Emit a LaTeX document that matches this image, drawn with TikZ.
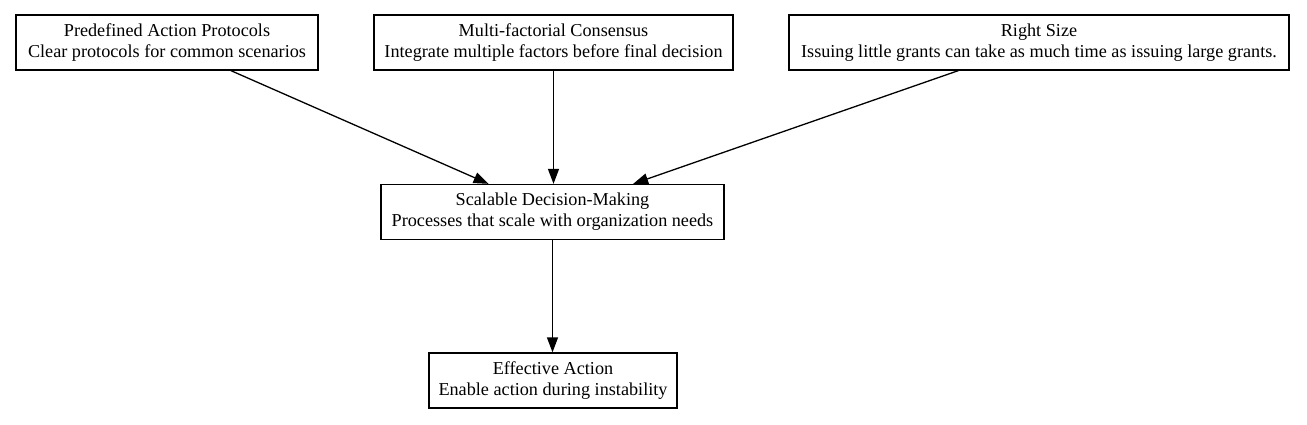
\documentclass[tikz,border=0pt]{standalone}
\usepackage{fontspec}
\setmainfont{Liberation Serif}
\usepackage{tikz}
\usetikzlibrary{arrows.meta}

\begin{document}
\begin{tikzpicture}[x=1pt,y=-1pt,
    box/.style={draw, line width=1.3pt, align=center, inner sep=0pt, minimum height=55pt,
        font=\fontsize{18.2}{21}\selectfont},
    link/.style={line width=1.3pt, -{Triangle[length=15pt,width=11pt]}}]
    \useasboundingbox (0,0) rectangle (1307,425);
    \node[box, minimum width=302pt] (pap) at (167,42.5) {Predefined Action Protocols\\Clear protocols for common scenarios};
    \node[box, minimum width=359pt] (mfc) at (553.5,42.5) {Multi-factorial Consensus\\Integrate multiple factors before final decision};
    \node[box, minimum width=500pt] (rsz) at (1039,42.5) {Right Size\\Issuing little grants can take as much time as issuing large grants.};
    \node[box, minimum width=343pt] (sdm) at (552.5,212) {Scalable Decision-Making\\Processes that scale with organization needs};
    \node[box, minimum width=248pt] (eff) at (553,380.5) {Effective Action\\Enable action during instability};
    \draw[link] (pap) -- (sdm);
    \draw[link] (mfc) -- (mfc |- sdm.north);
    \draw[link] (rsz) -- (sdm);
    \draw[link] (sdm) -- (sdm |- eff.north);
\end{tikzpicture}
\end{document}
